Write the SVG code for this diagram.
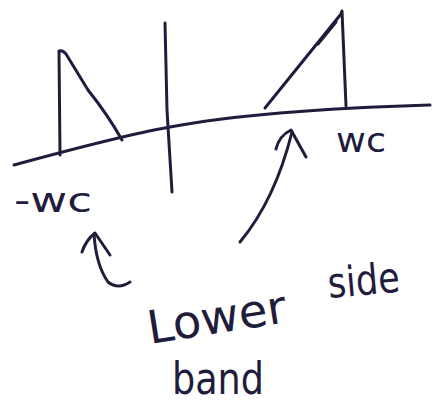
<svg xmlns="http://www.w3.org/2000/svg" width="437" height="406" viewBox="0 0 437 406">
<style>
.s{fill:none;stroke:#221c3c;stroke-width:3;stroke-linecap:round;stroke-linejoin:round}
.t{fill:#221c3c;font-family:"DejaVu Sans",sans-serif;font-weight:normal}
</style>
<rect width="437" height="406" fill="#ffffff"/>
<!-- axes -->
<path class="s" d="M14,165 Q120,136 170,127 Q260,110 430,105" stroke-width="2.5"/>
<path class="s" d="M165,23 L167,110 L172,192" stroke-width="2.5"/>
<!-- left triangle -->
<path class="s" d="M60,155 L59,51 Q63,50 66,54 L88,90 Q108,115 122,140"/>
<!-- right triangle -->
<path class="s" d="M265,108 L341,14 L342,11 L346,106"/>
<path class="s" d="M318,44 L336,22" stroke-width="1.5"/>
<!-- labels -->
<text class="t" x="14" y="212" font-size="34" textLength="78" lengthAdjust="spacingAndGlyphs">-wc</text>
<text class="t" x="336" y="152" font-size="34" textLength="50" lengthAdjust="spacingAndGlyphs">wc</text>
<!-- arrows -->
<path class="s" d="M240,242 Q275,200 292,132" stroke-width="2.5"/>
<path class="s" d="M276,149 Q279,136 291,130 L306,157" stroke-width="2.5"/>
<path class="s" d="M94,234 Q96,265 108,282 Q118,290 130,282" stroke-width="2.5"/>
<path class="s" d="M82,252 Q86,240 95,233 L110,255" stroke-width="2.5"/>
<!-- text -->
<text class="t" x="150" y="344" font-size="46" textLength="140" lengthAdjust="spacingAndGlyphs" transform="rotate(-9 150 344)">Lower</text>
<text class="t" x="329" y="298" font-size="42" textLength="72" lengthAdjust="spacingAndGlyphs" transform="rotate(-5 329 298)">side</text>
<text class="t" x="172" y="394" font-size="44" textLength="92" lengthAdjust="spacingAndGlyphs">band</text>
</svg>
